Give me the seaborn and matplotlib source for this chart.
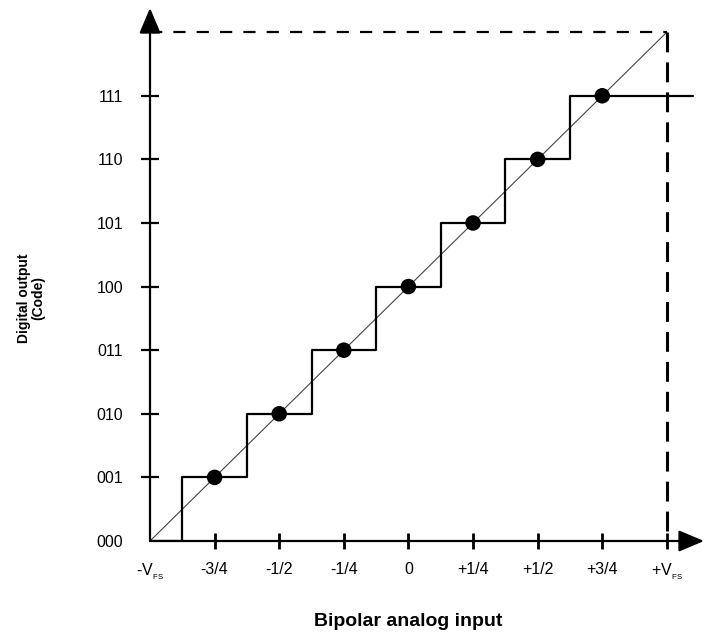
import matplotlib
matplotlib.use("Agg")
import matplotlib.pyplot as plt
import seaborn as sns
import pandas as pd

sns.set_theme(style="white")
plt.rcParams["font.family"] = ["Liberation Sans", "DejaVu Sans"]
plt.rcParams["mathtext.fontset"] = "custom"
plt.rcParams["mathtext.rm"] = "Liberation Sans"
plt.rcParams["mathtext.it"] = "Liberation Sans"
plt.rcParams["text.color"] = "black"
plt.rcParams["xtick.color"] = "black"
plt.rcParams["ytick.color"] = "black"

# Input positions in eighths of full scale (-8 = -V_FS, +8 = +V_FS)
tick_pos = [-8, -6, -4, -2, 0, 2, 4, 6, 8]
tick_labels = [r"-V$_{{}_{\rm FS}}$", "-3/4", "-1/2", "-1/4", "0", "+1/4", "+1/2", "+3/4",
               r"+V$_{{}_{\rm FS}}$"]
code_levels = [0, 1, 2, 3, 4, 5, 6, 7, 8]
code_labels = ["000", "001", "010", "011", "100", "101", "110", "111", ""]

# Transfer staircase: transition edges and output codes
step_x = [-8, -7, -5, -3, -1, 1, 3, 5, 8.8]
step_code = [0, 1, 2, 3, 4, 5, 6, 7, 7]

# Code centres
dot_x = [-6, -4, -2, 0, 2, 4, 6]
dot_code = [1, 2, 3, 4, 5, 6, 7]

# Ideal straight-line transfer
ideal_x = [-8, 8]
ideal_code = [0, 8]

XMAX, YMAX = 9.15, 8.38

fig = plt.figure(figsize=(7.04, 6.35), dpi=100)
ax = fig.add_axes([150 / 704, 94 / 635, 554 / 704, 533 / 635])
ax.set_xlim(-8, XMAX)
ax.set_ylim(0, YMAX)

sns.lineplot(x=ideal_x, y=ideal_code, ax=ax, color="#444444", linewidth=0.8)
sns.lineplot(data=pd.DataFrame({"x": step_x, "code": step_code}), x="x", y="code",
             ax=ax, color="black", linewidth=1.6, drawstyle="steps-post",
             estimator=None, sort=False)
sns.scatterplot(x=dot_x, y=dot_code, ax=ax, color="black", s=125, edgecolor="none", zorder=5)

# Full-scale guides
ax.plot([-8, 8], [8, 8], color="black", linewidth=1.6, linestyle=(0, (5.5, 5)))
ax.plot([8, 8], [8, 0], color="black", linewidth=2.2, linestyle=(0, (6.5, 3.3)), clip_on=False)

# Axes with arrowheads
for s in ax.spines.values():
    s.set_visible(False)
arrow = dict(arrowstyle="-|>,head_length=1.3,head_width=0.55", color="black", lw=1.6,
             shrinkA=0, shrinkB=0)
ax.annotate("", xy=(XMAX, 0), xytext=(-8, 0), arrowprops=arrow, annotation_clip=False)
ax.annotate("", xy=(-8, YMAX), xytext=(-8, 0), arrowprops=arrow, annotation_clip=False)

ax.set_xticks(tick_pos)
ax.set_xticklabels(tick_labels, fontsize=11.5)
ax.set_yticks(code_levels)
ax.set_yticklabels(code_labels, fontsize=11.5)
ax.tick_params(axis="x", direction="inout", length=12, width=2, color="black", pad=9,
               bottom=True, labelcolor="black")
ax.tick_params(axis="y", direction="inout", length=13, width=1.6, color="black", pad=13,
               left=True, labelcolor="black")
ax.xaxis.get_major_ticks()[0].tick1line.set_visible(False)
ax.yaxis.get_major_ticks()[0].tick1line.set_visible(False)
ax.grid(False)
ax.set_ylabel("")

ax.set_xlabel("Bipolar analog input", fontsize=14, fontweight="bold", color="black")
ax.xaxis.set_label_coords((408 - 150) / 554, -0.135)
fig.text(31 / 704, 1 - 298 / 635, "Digital output\n(Code)", rotation=90, ha="center",
         va="center", fontsize=10, fontweight="bold", linespacing=1.0, color="black")

fig.savefig("out.png", dpi=100)
